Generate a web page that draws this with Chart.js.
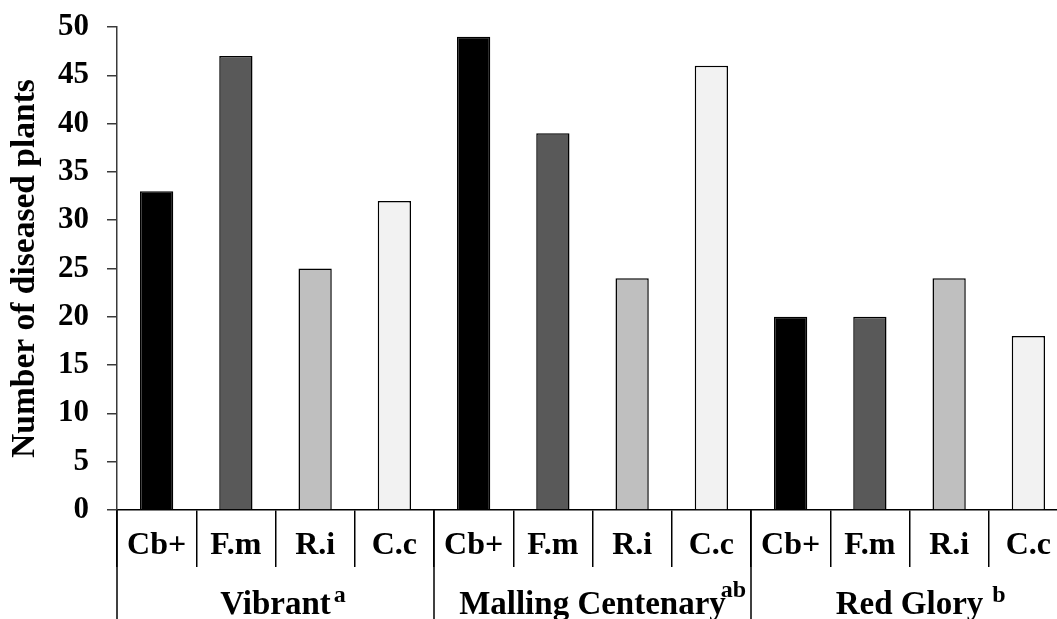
<!DOCTYPE html>
<html>
<head>
<meta charset="utf-8">
<script src="https://cdn.jsdelivr.net/npm/chart.js@4"></script>
<style>
  html, body { margin: 0; padding: 0; background: #ffffff; overflow: hidden; }
  #wrap { width: 1057px; height: 619px; overflow: hidden; position: relative; }
  canvas { display: block; }
</style>
</head>
<body>
<div id="wrap"><canvas id="chart" width="1068" height="619"></canvas></div>
<script>
// ---- data ----
const treatments = ['Cb+', 'F.m', 'R.i', 'C.c'];
const cultivars = ['Vibrant', 'Malling Centenary', 'Red Glory'];
const significance = ['a', 'ab', 'b'];
const vibrant = [33, 47, 25, 32];
const mallingCentenary = [49, 39, 24, 46];
const redGlory = [20, 20, 24, 18];
const yTickValues = [0, 5, 10, 15, 20, 25, 30, 35, 40, 45, 50];
const treatmentColors = ['#000000', '#595959', '#bfbfbf', '#f2f2f2'];

// ---- build ----
const seriesByCultivar = [vibrant, mallingCentenary, redGlory];
const labels = [];
const values = [];
const colors = [];
seriesByCultivar.forEach(function (arr) {
  arr.forEach(function (v, i) {
    labels.push(treatments[i]);
    values.push(v);
    colors.push(treatmentColors[i]);
  });
});

const FONT = "'Liberation Serif', 'Times New Roman', serif";

const groupPlugin = {
  id: 'groupLabels',
  afterDraw(chart) {
    const ctx = chart.ctx;
    const x = chart.scales.x;
    const n = labels.length;
    const step = x.getPixelForValue(1) - x.getPixelForValue(0);
    const axisY = chart.chartArea.bottom;
    const bottom = chart.height;
    ctx.save();
    ctx.strokeStyle = '#000000';
    ctx.lineWidth = 1.5;
    const per = treatments.length;
    for (let g = 0; g <= cultivars.length; g++) {
      let px;
      if (g * per >= n) px = x.getPixelForValue(n - 1) + step / 2;
      else px = x.getPixelForValue(g * per) - step / 2;
      ctx.beginPath();
      ctx.moveTo(px, axisY);
      ctx.lineTo(px, bottom);
      ctx.stroke();
    }
    ctx.fillStyle = '#000000';
    ctx.textBaseline = 'alphabetic';
    for (let g = 0; g < cultivars.length; g++) {
      const left = x.getPixelForValue(g * per) - step / 2;
      const right = x.getPixelForValue(g * per + per - 1) + step / 2;
      const cx = (left + right) / 2;
      ctx.font = 'bold 33px ' + FONT;
      ctx.textAlign = 'center';
      ctx.fillText(cultivars[g], cx, 614);
      const w = ctx.measureText(cultivars[g]).width;
      ctx.font = 'bold 24px ' + FONT;
      ctx.textAlign = 'left';
      const gap = g === 2 ? 9 : (g === 0 ? 3 : -5);
      const sy = g === 1 ? 597 : 602;
      ctx.fillText(significance[g], cx + w / 2 + gap, sy);
    }
    ctx.restore();
  }
};

new Chart(document.getElementById('chart'), {
  type: 'bar',
  data: {
    labels: labels,
    datasets: [{
      data: values,
      backgroundColor: colors,
      borderColor: '#000000',
      borderWidth: 1.5,
      categoryPercentage: 1.0,
      barPercentage: 0.42
    }]
  },
  options: {
    responsive: false,
    animation: false,
    devicePixelRatio: 1,
    layout: { padding: { top: 27, right: 0, bottom: 0, left: 0 } },
    plugins: {
      legend: { display: false },
      tooltip: { enabled: false }
    },
    scales: {
      x: {
        type: 'category',
        offset: true,
        afterFit(scale) { scale.height = 109; scale.paddingLeft = 0; scale.paddingRight = 0; },
        border: { display: true, color: '#000000', width: 1.5 },
        grid: {
          offset: true,
          drawOnChartArea: false,
          drawTicks: true,
          tickLength: 57,
          color: '#000000',
          lineWidth: 1.5
        },
        ticks: {
          color: '#000000',
          font: { family: FONT, size: 32, weight: 'bold' },
          padding: -40,
          maxRotation: 0,
          autoSkip: false
        }
      },
      y: {
        min: 0,
        max: 50,
        afterFit(scale) { scale.width = 117; scale.paddingTop = 0; scale.paddingBottom = 0; },
        afterBuildTicks(scale) { scale.ticks = yTickValues.map(function (v) { return { value: v }; }); },
        border: { display: true, color: '#3a3a3a', width: 1.5 },
        grid: {
          drawOnChartArea: false,
          drawTicks: true,
          tickLength: 10,
          color: '#3a3a3a',
          lineWidth: 1.5
        },
        ticks: {
          color: '#000000',
          font: { family: FONT, size: 31, weight: 'bold' },
          padding: 18
        },
        title: {
          display: true,
          text: 'Number of diseased plants',
          color: '#000000',
          font: { family: FONT, size: 33.5, weight: 'bold' },
          padding: { top: 5, bottom: 0 }
        }
      }
    }
  },
  plugins: [groupPlugin]
});
</script>
</body>
</html>
